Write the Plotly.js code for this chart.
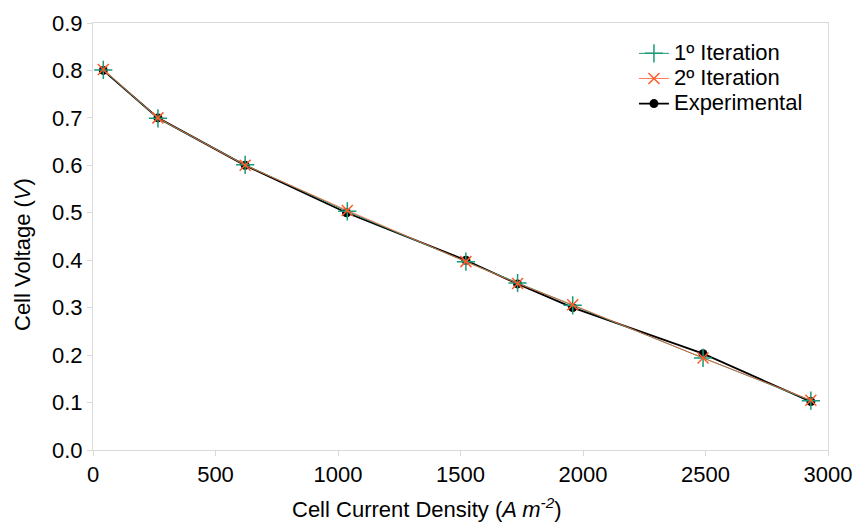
<!DOCTYPE html>
<html>
<head>
<meta charset="utf-8">
<script src="https://cdn.plot.ly/plotly-3.0.1.min.js"></script>
<style>html,body{margin:0;padding:0;background:#fff;}#chart{width:854px;height:524px;}</style>
</head>
<body>
<div id="chart"></div>
<script>
const iter1X = [42, 265, 621, 1038, 1522, 1733, 1958, 2490, 2930];
const iter1Y = [0.801, 0.699, 0.601, 0.503, 0.397, 0.352, 0.305, 0.194, 0.104];
const iter2X = [42, 265, 621, 1038, 1522, 1733, 1958, 2490, 2930];
const iter2Y = [0.802, 0.700, 0.600, 0.505, 0.397, 0.351, 0.306, 0.194, 0.105];
const expX = [42, 265, 621, 1035, 1522, 1733, 1958, 2490, 2930];
const expY = [0.800, 0.700, 0.600, 0.500, 0.400, 0.350, 0.300, 0.203, 0.102];
const names = ['1º Iteration', '2º Iteration', 'Experimental'];
const xTicks = [0, 500, 1000, 1500, 2000, 2500, 3000];
const yTicks = [0, 0.1, 0.2, 0.3, 0.4, 0.5, 0.6, 0.7, 0.8, 0.9];
const xTitle = 'Cell Current Density (<i>A m<sup>-2</sup></i>)';
const yTitle = 'Cell Voltage (<i>V</i>)';

const big = s => '<span style="font-size:22px">' + s + '</span>';
const traces = [
  {x: expX, y: expY, name: big(names[2]), mode: 'lines+markers', legendrank: 3,
   line: {color: '#000000', width: 1.8},
   marker: {symbol: 'circle', size: 9, color: '#000000'}},
  {x: iter1X, y: iter1Y, name: big(names[0]), mode: 'lines+markers', legendrank: 1,
   line: {color: '#1a9a78', width: 1},
   marker: {symbol: 'cross-thin', size: 13, line: {color: '#1a9a78', width: 1.5}}},
  {x: iter2X, y: iter2Y, name: big(names[1]), mode: 'lines+markers', legendrank: 2,
   line: {color: '#ff5a2a', width: 0.8},
   marker: {symbol: 'x-thin', size: 11, line: {color: '#ff5a2a', width: 1.5}}}
];

const fam = 'Liberation Sans, Arial, sans-serif';
const tf = {family: fam, size: 22, color: '#000'};
const layout = {
  width: 854, height: 524,
  margin: {l: 93, r: 26, t: 23, b: 74},
  paper_bgcolor: '#fff', plot_bgcolor: '#fff',
  font: tf,
  showlegend: true,
  legend: {x: 0.736, y: 0.97, xanchor: 'left', yanchor: 'top', bgcolor: 'rgba(0,0,0,0)',
           font: {family: fam, size: 17, color: '#000'}, traceorder: 'normal', tracegroupgap: 0},
  xaxis: {range: [0, 3000], tickvals: xTicks, ticktext: xTicks.map(String),
          showgrid: false, zeroline: false, showline: true, linecolor: '#d9d9d9', linewidth: 1, mirror: true,
          ticks: 'outside', ticklen: 5, tickcolor: '#d9d9d9', tickfont: tf},
  yaxis: {range: [0, 0.9], tickvals: yTicks, ticktext: yTicks.map(v => v.toFixed(1)),
          showgrid: false, zeroline: false, showline: true, linecolor: '#d9d9d9', linewidth: 1, mirror: true,
          ticks: 'outside', ticklen: 5, tickcolor: '#d9d9d9', tickfont: tf},
  annotations: [
    {text: xTitle, xref: 'paper', yref: 'paper', x: 0.4544, y: -0.135,
     xanchor: 'center', yanchor: 'middle', showarrow: false, font: tf},
    {text: yTitle, xref: 'paper', yref: 'paper', x: -0.0966, y: 0.459, textangle: -90,
     xanchor: 'center', yanchor: 'middle', showarrow: false, font: tf}
  ]
};
Plotly.newPlot('chart', traces, layout, {displayModeBar: false, staticPlot: true});
</script>
</body>
</html>
